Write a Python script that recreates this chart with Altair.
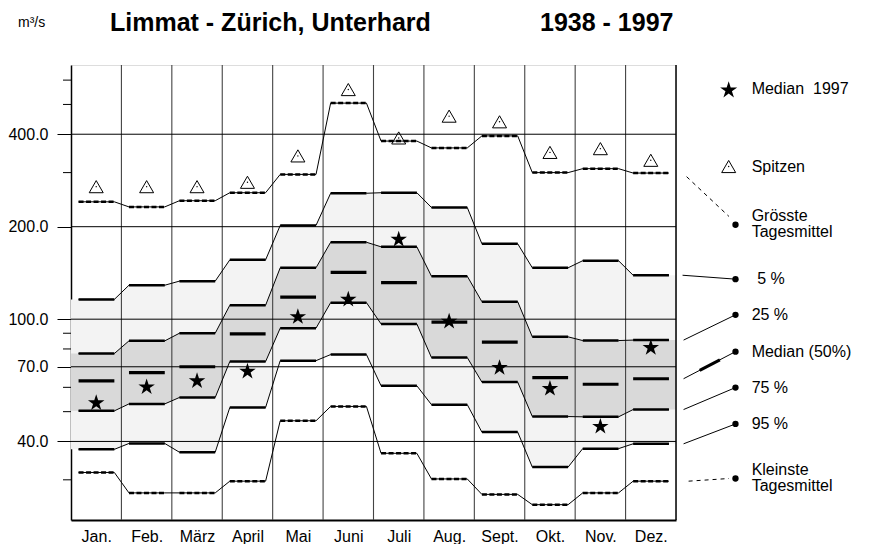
import altair as alt
import numpy as np
import pandas as pd

# ---------------- data ----------------
months = ["Jan.", "Feb.", "März", "April", "Mai", "Juni", "Juli", "Aug.", "Sept.", "Okt.", "Nov.", "Dez."]
peaks = [270, 270, 270, 279, 340, 559, 389, 458, 439, 349, 359, 329]          # Spitzen
max_daily = [241, 232, 243, 258, 296, 505, 380, 361, 395, 300, 309, 299]      # Grösste Tagesmittel
q05 = [116, 129, 133, 156, 202, 257, 258, 231, 176, 147, 155, 139]
q25 = [77.3, 85, 90, 111, 147, 178, 172, 138, 114, 87.6, 85.2, 85.5]
q50 = [63, 67, 70, 89.6, 118, 142, 131.6, 97.8, 84.2, 64.5, 61.4, 64]
q75 = [50.3, 53, 55.6, 72.8, 93.5, 113.2, 96.5, 75, 62.4, 48.2, 48.1, 50.8]
q95 = [37.7, 39.4, 36.9, 51.6, 73.3, 76.7, 60.7, 52.7, 42.9, 33.0, 37.9, 39.3]
min_daily = [31.7, 27.2, 27.2, 29.7, 46.7, 52, 36.6, 30.2, 26.9, 24.9, 27.2, 29.7]  # Kleinste Tagesmittel
median_1997 = [53.7, 60.5, 63.3, 68.0, 102.4, 116.6, 182.9, 98.9, 69.9, 59.8, 45.0, 81.3]

y_major = [40, 70, 100, 200, 400]
y_minor = [30, 50, 60, 80, 90, 300, 500, 600]
y_domain = [22.2, 672]

# legend (right side) : label, dot value, text (first line) value
legend_labels = ["Grösste\nTagesmittel", "5 %", "25 %", "Median (50%)", "75 %", "95 %", "Kleinste\nTagesmittel"]
legend_dot_values = [203, 135, 103.3, 78.4, 59.9, 45.6, 30.3]
legend_text_values = [216.8, 135, 103.3, 78.4, 59.9, 45.6, 32.3]

# ---------------- layout helpers ----------------
W, H = 605, 455
SEG0, SEG1 = 0.15, 0.86
FONT = "Liberation Sans"
STAR = ("M0,-0.9045L0.2245,-0.2135L0.9511,-0.2135L0.3633,0.2135L0.5878,0.9045"
        "L0,0.4775L-0.5878,0.9045L-0.3633,0.2135L-0.9511,-0.2135L-0.2245,-0.2135Z")


def step_points(vals, extend=False):
    xs, vs = [], []
    if extend:
        xs.append(0.0); vs.append(vals[0])
    for i, v in enumerate(vals):
        xs += [i + SEG0, i + SEG1]
        vs += [v, v]
    if extend:
        xs.append(12.0); vs.append(vals[-1])
    return xs, vs


series = {"max": max_daily, "q05": q05, "q25": q25, "q75": q75, "q95": q95, "min": min_daily}

line_rows = []
for name, vals in series.items():
    xs_, vs_ = step_points(vals)
    for k, (x, v) in enumerate(zip(xs_, vs_)):
        line_rows.append({"series": name, "x": x, "v": v, "k": k})
lines_df = pd.DataFrame(line_rows)

xa, a95 = step_points(q95, True)
_, a05 = step_points(q05, True)
_, a75 = step_points(q75, True)
_, a25 = step_points(q25, True)
area_df = pd.DataFrame({"x": xa, "p95": a95, "p05": a05, "p75": a75, "p25": a25})

seg_rows = []
for name, vals in series.items():
    for i, v in enumerate(vals):
        seg_rows.append({"series": name, "x": i + SEG0, "x2": i + SEG1, "v": v,
                         "dashed": name in ("max", "min")})
seg_df = pd.DataFrame(seg_rows)
solid_df = seg_df[~seg_df["dashed"]]
dashed_df = seg_df[seg_df["dashed"]]

med_df = pd.DataFrame({"x": [i + SEG0 for i in range(12)], "x2": [i + SEG1 for i in range(12)], "v": q50})
peak_df = pd.DataFrame({"x": [i + 0.5 for i in range(12)], "v": peaks})
star_df = pd.DataFrame({"x": [i + 0.5 for i in range(12)], "v": median_1997})
vgrid_df = pd.DataFrame({"x": list(range(1, 12))})
hgrid_df = pd.DataFrame({"v": y_major})
minor_df = pd.DataFrame({"v": y_minor})

# legend geometry
XDOT, XSYM, XTXT = 13.18, 13.045, 13.50
dots_df = pd.DataFrame({"x": [XDOT] * 7, "v": legend_dot_values})
conn_solid = pd.DataFrame({
    "x": [12.13, 12.15, 12.15, 12.15, 12.15],
    "v": [q05[-1], q25[-1], q50[-1], q75[-1], q95[-1]],
    "x2": [XDOT] * 5,
    "v2": legend_dot_values[1:6],
})
conn_dash = pd.DataFrame({
    "x": [12.21, 12.25], "v": [291, min_daily[-1]],
    "x2": [13.05, 13.05], "v2": [216, legend_dot_values[-1]],
})


def interp_log(x, x0, v0, x1, v1):
    f = (x - x0) / (x1 - x0)
    return float(10 ** (np.log10(v0) + f * (np.log10(v1) - np.log10(v0))))


med_thick = pd.DataFrame({
    "x": [12.47], "x2": [12.87],
    "v": [interp_log(12.47, 12.15, q50[-1], XDOT, legend_dot_values[3])],
    "v2": [interp_log(12.87, 12.15, q50[-1], XDOT, legend_dot_values[3])],
})
leg_text_df = pd.DataFrame({"x": [XTXT, XTXT + 0.11, XTXT, XTXT, XTXT, XTXT, XTXT],
                            "v": legend_text_values,
                            "t": legend_labels})
leg_sym_df = pd.DataFrame({"x": [XSYM], "v": [314]})
leg_star_df = pd.DataFrame({"x": [XSYM], "v": [560]})
leg_top_text = pd.DataFrame({"x": [XTXT, XTXT], "v": [560, 314],
                             "t": ["Median\u00a0 1997", "Spitzen"]})

# ---------------- scales / axes ----------------
xs = alt.Scale(domain=[0, 12], nice=False, zero=False)
ys = alt.Scale(type="log", domain=y_domain, nice=False)

label_array = "[" + ",".join("'" + m + "'" for m in months) + "]"
x_axis = alt.Axis(values=[i + 0.5 for i in range(12)], labelExpr=label_array + "[floor(datum.value)]",
                  title=None, ticks=False, tickSize=0, labelPadding=8, labelFontSize=16,
                  labelColor="black", labelFont=FONT, domainColor="black", domainWidth=2,
                  grid=False, labelFlush=False, labelOverlap=False)
y_axis = alt.Axis(values=y_major, format=".1f", title=None, tickSize=14, tickColor="black",
                  tickWidth=1, labelFontSize=16, labelColor="black", labelFont=FONT, labelPadding=9,
                  domainColor="black", domainWidth=1.5, grid=False, labelOverlap=False)


def X(f):
    return alt.X(f, type="quantitative", scale=xs, axis=x_axis)


def Y(f):
    return alt.Y(f, type="quantitative", scale=ys, axis=y_axis)


layers = []
# fills
layers.append(alt.Chart(area_df).mark_area(color="#f3f3f3", opacity=1, interpolate="linear")
              .encode(x=X("x"), y=Y("p95"), y2="p05"))
layers.append(alt.Chart(area_df).mark_area(color="#d9d9d9", opacity=1, interpolate="linear")
              .encode(x=X("x"), y=Y("p75"), y2="p25"))
# grid
layers.append(alt.Chart(vgrid_df).mark_rule(color="#444", strokeWidth=1.1).encode(x=X("x")))
layers.append(alt.Chart(hgrid_df).mark_rule(color="black", strokeWidth=1).encode(y=Y("v")))
layers.append(alt.Chart(pd.DataFrame({"x": [12]})).mark_rule(color="black", strokeWidth=1.5).encode(x=X("x")))
# minor ticks
layers.append(alt.Chart(minor_df).mark_rule(color="black", strokeWidth=1)
              .encode(y=Y("v"), x=alt.value(-8), x2=alt.value(0)))
# thin polylines
layers.append(alt.Chart(lines_df).mark_line(color="black", strokeWidth=1)
              .encode(x=X("x"), y=Y("v"), detail="series:N", order="k:Q"))
# thick month segments
layers.append(alt.Chart(solid_df).mark_rule(color="black", strokeWidth=2.5)
              .encode(x=X("x"), x2="x2", y=Y("v")))
layers.append(alt.Chart(dashed_df).mark_rule(color="black", strokeWidth=2.5, strokeDash=[5, 2.5])
              .encode(x=X("x"), x2="x2", y=Y("v")))
# median bars
layers.append(alt.Chart(med_df).mark_rule(color="black", strokeWidth=3.2)
              .encode(x=X("x"), x2="x2", y=Y("v")))
# peaks
layers.append(alt.Chart(peak_df).mark_point(shape="triangle-up", size=196, filled=False, color="black",
                                            strokeWidth=1, opacity=1)
              .encode(x=X("x"), y=Y("v")))
layers.append(alt.Chart(peak_df).mark_point(shape="circle", size=2, filled=True, color="black", opacity=1)
              .encode(x=X("x"), y=Y("v")))
# stars
layers.append(alt.Chart(star_df).mark_point(shape=STAR, size=300, filled=True, color="black", opacity=1)
              .encode(x=X("x"), y=Y("v")))

# legend
layers.append(alt.Chart(conn_solid).mark_rule(color="black", strokeWidth=1)
              .encode(x=X("x"), x2="x2", y=Y("v"), y2="v2"))
layers.append(alt.Chart(conn_dash).mark_rule(color="black", strokeWidth=1, strokeDash=[4, 4])
              .encode(x=X("x"), x2="x2", y=Y("v"), y2="v2"))
layers.append(alt.Chart(med_thick).mark_rule(color="black", strokeWidth=3)
              .encode(x=X("x"), x2="x2", y=Y("v"), y2="v2"))
layers.append(alt.Chart(dots_df).mark_point(shape="circle", size=40, filled=True, color="black", opacity=1)
              .encode(x=X("x"), y=Y("v")))
layers.append(alt.Chart(leg_text_df).mark_text(align="left", baseline="middle", fontSize=16, font=FONT,
                                               color="black", lineBreak="\n", lineHeight=16)
              .encode(x=X("x"), y=Y("v"), text="t:N"))
layers.append(alt.Chart(leg_top_text).mark_text(align="left", baseline="middle", fontSize=16, font=FONT,
                                                color="black")
              .encode(x=X("x"), y=Y("v"), text="t:N"))
layers.append(alt.Chart(leg_sym_df).mark_point(shape="triangle-up", size=196, filled=False, color="black",
                                               strokeWidth=1, opacity=1)
              .encode(x=X("x"), y=Y("v")))
layers.append(alt.Chart(leg_sym_df).mark_point(shape="circle", size=2, filled=True, color="black", opacity=1)
              .encode(x=X("x"), y=Y("v")))
layers.append(alt.Chart(leg_star_df).mark_point(shape=STAR, size=320, filled=True, color="black", opacity=1)
              .encode(x=X("x"), y=Y("v")))

# titles
one = pd.DataFrame({"a": [0]})
layers.append(alt.Chart(one).mark_text(text="m³/s", align="left", baseline="alphabetic", fontSize=14,
                                       font=FONT, color="black")
              .encode(x=alt.value(-53), y=alt.value(-38)))
layers.append(alt.Chart(one).mark_text(text="Limmat - Zürich, Unterhard", align="left", baseline="alphabetic",
                                       fontSize=25, fontWeight="bold", font=FONT, color="black")
              .encode(x=alt.value(39), y=alt.value(-34.5)))
layers.append(alt.Chart(one).mark_text(text="1938 - 1997", align="left", baseline="alphabetic",
                                       fontSize=25, fontWeight="bold", font=FONT, color="black")
              .encode(x=alt.value(469), y=alt.value(-34.5)))

chart = alt.layer(*layers).properties(
    width=W, height=H,
    padding={"left": 63, "top": 57, "right": 189, "bottom": 24},
    autosize=alt.AutoSizeParams(type="none"),
).configure_view(stroke="#999", strokeWidth=1).configure(font=FONT, background="white")

chart.save("out.html", embed_options={"renderer": "svg", "actions": False})
